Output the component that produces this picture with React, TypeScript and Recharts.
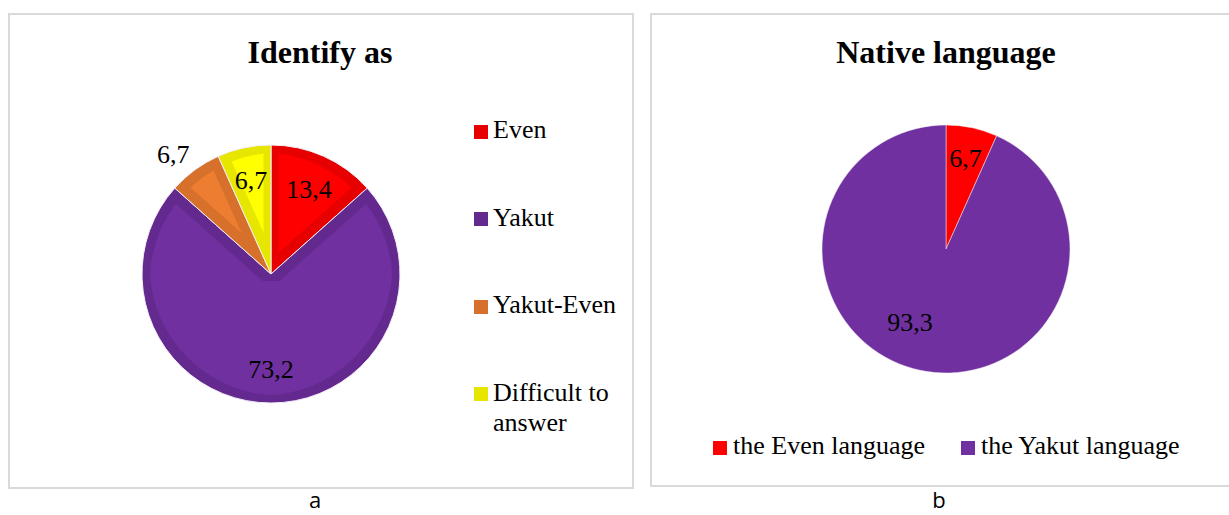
import { Cell, Legend, Pie, PieChart } from "recharts";

const SERIF = '"Liberation Serif", "Times New Roman", serif';
const SANS = '"Open Sans", "DejaVu Sans", sans-serif';

// (a) Identify as
const identifyNames = ["Even", "Yakut", "Yakut-Even", "Difficult to answer"];
const identifyValues = [13.4, 73.2, 6.7, 6.7];

// (b) Native language
const languageNames = ["the Even language", "the Yakut language"];
const languageValues = [6.7, 93.3];

const IDENTIFY_FILL = ["#ff0000", "#7030a0", "#ed7d31", "#ffff00"];
const IDENTIFY_EDGE = ["#e60000", "#64298f", "#d6702b", "#e6e600"];
const LANGUAGE_FILL = ["#ff0000", "#7030a0"];

// label placement: fraction of radius + angle nudge (deg)
const IDENTIFY_LABEL_R = [0.72, 0.74, 1.2, 0.74];
const IDENTIFY_LABEL_SHIFT = [0, 0, 3, 0];
const LANGUAGE_LABEL_R = [0.75, 0.66];
const LANGUAGE_LABEL_SHIFT = [0, -14];

const identifyData = identifyNames.map((name, i) => ({ name, value: identifyValues[i] }));
const languageData = languageNames.map((name, i) => ({ name, value: languageValues[i] }));

const RADIAN = Math.PI / 180;
const fmt = (v: number) => v.toFixed(1).replace(".", ",");

function makeLabel(radii: number[], shifts: number[]) {
  return (props: any) => {
    const { cx, cy, midAngle, outerRadius, index, value } = props;
    const a = (midAngle + (shifts[index] ?? 0)) * RADIAN;
    const r = outerRadius * radii[index];
    return (
      <text
        x={cx + r * Math.cos(a)}
        y={cy - r * Math.sin(a)}
        textAnchor="middle"
        dominantBaseline="central"
        fill="#000"
        style={{ fontFamily: SERIF, fontSize: 26 }}
      >
        {fmt(value)}
      </text>
    );
  };
}

/** Excel-like inner border: erode the slice and paint the lighter fill inside. */
function InsetFilter({ id, color }: { id: string; color: string }) {
  return (
    <filter id={id} x="-5%" y="-5%" width="110%" height="110%" colorInterpolationFilters="sRGB">
      <feMorphology in="SourceAlpha" operator="erode" radius={8} result="core" />
      <feFlood floodColor={color} result="tint" />
      <feComposite in="tint" in2="core" operator="in" result="inner" />
      <feMerge>
        <feMergeNode in="SourceGraphic" />
        <feMergeNode in="inner" />
      </feMerge>
    </filter>
  );
}

function IdentifyLegend() {
  return (
    <div style={{ fontFamily: SERIF, fontSize: 26, lineHeight: "30px", color: "#000" }}>
      {identifyNames.map((name, i) => (
        <div
          key={name}
          style={{ display: "flex", alignItems: "flex-start", marginBottom: i < identifyNames.length - 1 ? 57.5 : 0 }}
        >
          <span
            style={{ width: 14, height: 14, marginTop: 9.5, marginRight: 5, background: IDENTIFY_EDGE[i], flex: "none" }}
          />
          <span style={{ width: 135 }}>{name}</span>
        </div>
      ))}
    </div>
  );
}

function LanguageLegend() {
  return (
    <div style={{ display: "flex", fontFamily: SERIF, fontSize: 26, lineHeight: "30px", color: "#000" }}>
      {languageNames.map((name, i) => (
        <div key={name} style={{ display: "flex", alignItems: "flex-start", marginRight: i === 0 ? 36 : 0 }}>
          <span
            style={{ width: 14, height: 14, marginTop: 10, marginRight: 6, background: LANGUAGE_FILL[i], flex: "none" }}
          />
          <span style={{ whiteSpace: "nowrap" }}>{name}</span>
        </div>
      ))}
    </div>
  );
}

const panel: React.CSSProperties = {
  position: "absolute",
  boxSizing: "border-box",
  border: "2px solid #d9d9d9",
  background: "#fff",
};

const title: React.CSSProperties = {
  position: "absolute",
  width: 400,
  textAlign: "center",
  fontFamily: SERIF,
  fontWeight: "bold",
  fontSize: 32,
  lineHeight: "32px",
  color: "#000",
};

const caption: React.CSSProperties = {
  position: "absolute",
  width: 40,
  textAlign: "center",
  fontFamily: SANS,
  fontSize: 22,
  lineHeight: "normal",
  color: "#000",
};

export default function App() {
  return (
    <div style={{ position: "absolute", left: 0, top: 0, width: 1229, height: 515, background: "#fff", overflow: "hidden" }}>
      <svg width={0} height={0} style={{ position: "absolute" }}>
        <defs>
          {IDENTIFY_FILL.map((c, i) => (
            <InsetFilter key={i} id={`inset-${i}`} color={c} />
          ))}
        </defs>
      </svg>

      <div style={{ ...panel, left: 8, top: 13, width: 626, height: 476 }} />
      <div style={{ ...panel, left: 650, top: 13, width: 590, height: 474 }} />

      <div style={{ position: "absolute", left: 8, top: 13 }}>
        <PieChart width={626} height={476} margin={{ top: 0, right: 0, bottom: 0, left: 0 }}>
          <Pie
            data={identifyData}
            dataKey="value"
            nameKey="name"
            cx={263}
            cy={261}
            outerRadius={129}
            startAngle={90}
            endAngle={-270}
            stroke="#f2eef7"
            strokeWidth={1}
            label={makeLabel(IDENTIFY_LABEL_R, IDENTIFY_LABEL_SHIFT)}
            labelLine={false}
            isAnimationActive={false}
          >
            {identifyData.map((d, i) => (
              <Cell key={d.name} fill={IDENTIFY_EDGE[i]} filter={`url(#inset-${i})`} />
            ))}
          </Pie>
          <Legend
            layout="vertical"
            align="right"
            verticalAlign="top"
            content={() => <IdentifyLegend />}
            wrapperStyle={{ left: 466, top: 102, width: 160 }}
          />
        </PieChart>
      </div>

      <div style={{ position: "absolute", left: 650, top: 13 }}>
        <PieChart width={579} height={474} margin={{ top: 0, right: 0, bottom: 0, left: 0 }}>
          <Pie
            data={languageData}
            dataKey="value"
            nameKey="name"
            cx={296}
            cy={236}
            outerRadius={124}
            startAngle={90}
            endAngle={-270}
            stroke="#f2eef7"
            strokeWidth={0.5}
            label={makeLabel(LANGUAGE_LABEL_R, LANGUAGE_LABEL_SHIFT)}
            labelLine={false}
            isAnimationActive={false}
          >
            {languageData.map((d, i) => (
              <Cell key={d.name} fill={LANGUAGE_FILL[i]} />
            ))}
          </Pie>
          <Legend
            layout="horizontal"
            align="left"
            verticalAlign="bottom"
            content={() => <LanguageLegend />}
            wrapperStyle={{ left: 63, top: 418, bottom: "auto", width: 500 }}
          />
        </PieChart>
      </div>

      <div style={{ ...title, left: 320 - 200, top: 36 }}>Identify as</div>
      <div style={{ ...title, left: 946 - 200, top: 36 }}>Native language</div>

      <div style={{ ...caption, left: 315 - 20, top: 484 }}>a</div>
      <div style={{ ...caption, left: 939 - 20, top: 484 }}>b</div>
    </div>
  );
}
